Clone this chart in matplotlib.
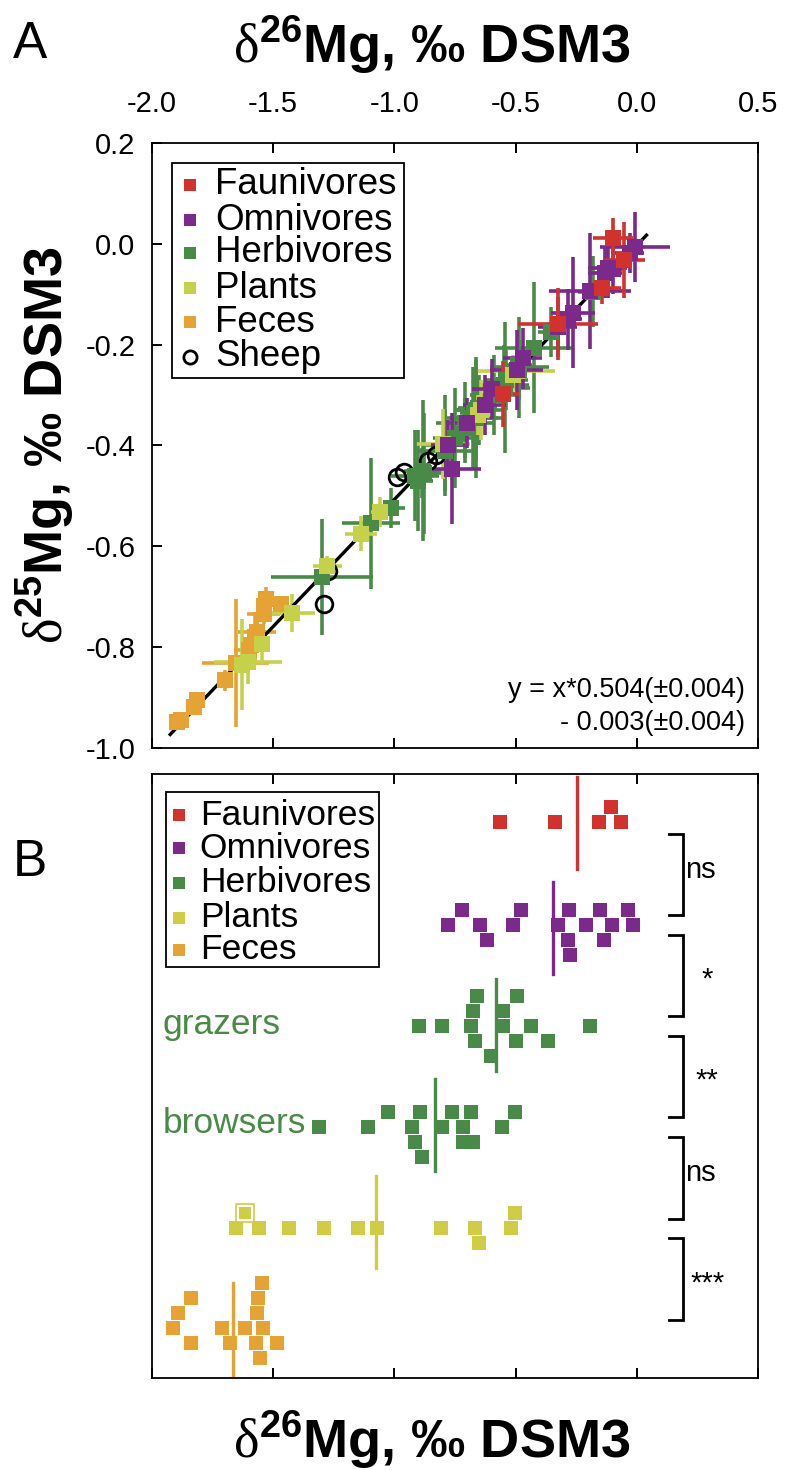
import numpy as np
import matplotlib
matplotlib.use('Agg')
import matplotlib.pyplot as plt
from matplotlib.patches import Rectangle

plt.rcParams['font.family'] = ['Liberation Sans', 'DejaVu Sans']
plt.rcParams['axes.unicode_minus'] = False
plt.rcParams['mathtext.fontset'] = 'custom'
plt.rcParams['mathtext.rm'] = 'Liberation Serif'
plt.rcParams['mathtext.bf'] = 'Liberation Sans:bold'

# colours
c_faun = '#d2322d'
c_omni = '#7b2a8c'
c_herb = '#4a8a48'
c_plant_a = '#c5d04b'
c_plant_b = '#d0cc45'
c_feces = '#e5a335'

# ---------------- panel A : d25Mg vs d26Mg (x, y, xerr, yerr) ----------------
faun_x = [-0.099, -0.054, -0.145, -0.326, -0.554]
faun_y = [0.012, -0.032, -0.087, -0.159, -0.298]
faun_xe = [0.083, 0.087, 0.080, 0.165, 0.066]
faun_ye = [0.040, 0.076, 0.032, 0.071, 0.066]

omni_x = [-0.008, -0.030, -0.100, -0.120, -0.132, -0.194, -0.264, -0.285, -0.326,
          -0.471, -0.496, -0.599, -0.628, -0.702, -0.764, -0.777]
omni_y = [-0.006, -0.018, -0.050, -0.048, -0.058, -0.094, -0.137, -0.150, -0.165,
          -0.227, -0.250, -0.288, -0.320, -0.355, -0.446, -0.400]
omni_xe = [0.145, 0.060, 0.050, 0.080, 0.070, 0.170, 0.090, 0.060, 0.080,
           0.080, 0.110, 0.080, 0.090, 0.050, 0.120, 0.070]
omni_ye = [0.070, 0.040, 0.050, 0.060, 0.050, 0.115, 0.110, 0.060, 0.060,
           0.060, 0.080, 0.060, 0.060, 0.050, 0.110, 0.050]

herb_x = [-0.885, -0.790, -0.650, -0.662, -0.670, -0.657, -0.590, -0.484, -0.538,
          -0.542, -0.426, -0.488, -0.356, -0.182,
          -1.298, -1.095, -1.013, -0.881, -0.914, -0.901, -0.876, -0.790, -0.752,
          -0.674, -0.707, -0.707, -0.662, -0.546, -0.492]
herb_y = [-0.455, -0.400, -0.330, -0.345, -0.335, -0.325, -0.300, -0.245, -0.270,
          -0.285, -0.206, -0.250, -0.175, -0.095,
          -0.661, -0.554, -0.524, -0.450, -0.460, -0.470, -0.455, -0.410, -0.385,
          -0.345, -0.355, -0.365, -0.330, -0.280, -0.240]
herb_xe = [0.060, 0.080, 0.100, 0.120, 0.060, 0.080, 0.100, 0.120, 0.090,
           0.100, 0.160, 0.080, 0.050, 0.060,
           0.210, 0.120, 0.055, 0.080, 0.100, 0.060, 0.070, 0.110, 0.090,
           0.100, 0.120, 0.060, 0.080, 0.100, 0.060]
herb_ye = [0.050, 0.100, 0.070, 0.120, 0.040, 0.060, 0.080, 0.100, 0.060,
           0.130, 0.130, 0.060, 0.050, 0.070,
           0.115, 0.130, 0.040, 0.140, 0.090, 0.100, 0.120, 0.080, 0.100,
           0.100, 0.080, 0.060, 0.100, 0.080, 0.050]

plant_x = [-0.496, -0.509, -0.657, -0.641, -0.798, -1.058, -1.137, -1.277,
           -1.422, -1.546, -1.604, -1.630]
plant_y = [-0.252, -0.260, -0.340, -0.330, -0.397, -0.532, -0.575, -0.639,
           -0.732, -0.794, -0.830, -0.835]
plant_xe = [0.160, 0.040, 0.050, 0.040, 0.110, 0.040, 0.065, 0.060,
            0.095, 0.030, 0.140, 0.050]
plant_ye = [0.040, 0.040, 0.040, 0.060, 0.070, 0.030, 0.035, 0.020,
            0.038, 0.040, 0.043, 0.090]

feces_x = [-1.895, -1.880, -1.825, -1.813, -1.697, -1.655, -1.600, -1.590,
           -1.567, -1.575, -1.540, -1.537, -1.530, -1.467]
feces_y = [-0.949, -0.944, -0.918, -0.905, -0.866, -0.832, -0.805, -0.795,
           -0.770, -0.780, -0.735, -0.718, -0.705, -0.714]
feces_xe = [0.020, 0.020, 0.020, 0.020, 0.025, 0.137, 0.060, 0.030,
            0.078, 0.020, 0.070, 0.030, 0.020, 0.020]
feces_ye = [0.012, 0.012, 0.015, 0.010, 0.020, 0.127, 0.020, 0.030,
            0.020, 0.050, 0.020, 0.030, 0.025, 0.015]

sheep_x = [-0.990, -0.960, -0.860, -0.830, -1.290, -1.275]
sheep_y = [-0.462, -0.452, -0.430, -0.418, -0.714, -0.648]

# regression line y = 0.504 x - 0.003
fit_slope = 0.504
fit_icpt = -0.003
fit_range = [-1.925, 0.04]

xticks = [-2.0, -1.5, -1.0, -0.5, 0.0, 0.5]
xtick_labels = ['-2.0', '-1.5', '-1.0', '-0.5', '0.0', '0.5']
yticks = [0.2, 0.0, -0.2, -0.4, -0.6, -0.8, -1.0]
ytick_labels = ['0.2', '0.0', '-0.2', '-0.4', '-0.6', '-0.8', '-1.0']

# ---------------- panel B : d26Mg dot plot (x value, stack level) ----------------
b_faun_x = [-0.566, -0.339, -0.157, -0.066, -0.107]
b_faun_lvl = [0, 0, 0, 0, -1]
b_omni_x = [-0.723, -0.479, -0.281, -0.153, -0.037,
            -0.777, -0.645, -0.512, -0.326, -0.211, -0.103, -0.017,
            -0.616, -0.285, -0.136, -0.277]
b_omni_lvl = [-1, -1, -1, -1, -1, 0, 0, 0, 0, 0, 0, 0, 1, 1, 1, 2]
b_graz_x = [-0.661, -0.496, -0.674, -0.550, -0.897, -0.802, -0.682, -0.554,
            -0.438, -0.194, -0.669, -0.500, -0.368, -0.603]
b_graz_lvl = [-2, -2, -1, -1, 0, 0, 0, 0, 0, 0, 1, 1, 1, 2]
b_brow_x = [-1.025, -0.893, -0.764, -0.686, -0.504,
            -1.310, -1.107, -0.926, -0.802, -0.719, -0.558,
            -0.913, -0.719, -0.674, -0.888]
b_brow_lvl = [-1, -1, -1, -1, -1, 0, 0, 0, 0, 0, 0, 1, 1, 1, 2]
b_plant_x = [-1.653, -1.558, -1.434, -1.289, -1.149, -1.070, -0.806, -0.669,
             -0.521, -0.504, -0.653]
b_plant_lvl = [0, 0, 0, 0, 0, 0, 0, 0, 0, -1, 1]
b_plant_special_x = [-1.616]
b_plant_special_lvl = [-1]
b_feces_x = [-1.839, -1.893, -1.913, -1.839, -1.711, -1.678, -1.616, -1.545,
             -1.562, -1.566, -1.541, -1.570, -1.483, -1.554]
b_feces_lvl = [-2, -1, 0, 1, 0, 1, 0, -3, -2, -1, 0, 1, 1, 2]

# group means and row positions (rows counted in square heights from the top)
b_means = [-0.248, -0.347, -0.579, -0.833, -1.074, -1.665]
b_rows = [3.2, 10.07, 16.8, 23.53, 30.27, 36.93]
b_mean_mid = [3.27, 10.27, 16.73, 23.4, 29.87, 37.0]
b_colors = [c_faun, c_omni, c_herb, c_herb, c_plant_b, c_feces]

# significance brackets
br_top = [4.0, 10.73, 17.47, 24.2, 30.93]
br_bot = [9.4, 16.13, 22.87, 29.67, 36.4]
br_text = ['ns', '*', '**', 'ns', '***']

legend_names = ['Faunivores', 'Omnivores', 'Herbivores', 'Plants', 'Feces']

fig = plt.figure(figsize=(7.85, 14.7), dpi=100)
W, H = 785.0, 1470.0

# ======================= panel A =======================
axA = fig.add_axes([152 / W, 1 - 748 / H, 606 / W, 605 / H])
axA.set_xlim(-2.0, 0.5)
axA.set_ylim(-1.0, 0.2)

groups_a = [
    (feces_x, feces_y, feces_xe, feces_ye, c_feces),
    (herb_x, herb_y, herb_xe, herb_ye, c_herb),
    (plant_x, plant_y, plant_xe, plant_ye, c_plant_a),
    (omni_x, omni_y, omni_xe, omni_ye, c_omni),
    (faun_x, faun_y, faun_xe, faun_ye, c_faun),
]
for gx, gy, gxe, gye, col in groups_a:
    axA.errorbar(gx, gy, xerr=gxe, yerr=gye, fmt='none', ecolor=col,
                 elinewidth=2.6, capsize=0, zorder=2)

fx = np.array(fit_range)
axA.plot(fx, fit_slope * fx + fit_icpt, color='black', lw=2.4, zorder=2.5)

# sheep circles sit under the squares
axA.plot(sheep_x, sheep_y, 'o', mfc='none', mec='black', ms=12, mew=2.0, zorder=2.7)

for gx, gy, gxe, gye, col in groups_a:
    axA.plot(gx, gy, 's', color=col, ms=11.5, mew=0, zorder=3)

axA.set_xticks(xticks)
axA.set_xticklabels(xtick_labels)
axA.set_yticks(yticks)
axA.set_yticklabels(ytick_labels)
axA.tick_params(axis='x', which='both', top=True, bottom=True, labeltop=True,
                labelbottom=False, direction='in', length=7, width=1.4,
                labelsize=21, pad=18)
axA.tick_params(axis='y', which='both', left=True, right=False, direction='in',
                length=7, width=1.4, labelsize=21, pad=12)
for sp in axA.spines.values():
    sp.set_linewidth(1.3)

# legend drawn by hand to keep the tight spacing of the original
axA.add_patch(Rectangle((0.033, 0.612), 0.383, 0.355, transform=axA.transAxes,
                        fill=False, ec='black', lw=1.3, zorder=5))
leg_a_y = [0.9306, 0.8727, 0.8182, 0.7603, 0.7041, 0.6463]
leg_a_cols = [c_faun, c_omni, c_herb, c_plant_a, c_feces]
for i, name in enumerate(legend_names):
    axA.plot(0.0627, leg_a_y[i], 's', color=leg_a_cols[i], ms=8.6, mew=0,
             transform=axA.transAxes, zorder=6)
    axA.text(0.104, leg_a_y[i], name, transform=axA.transAxes, fontsize=26.5,
             va='center', ha='left', zorder=6)
axA.plot(0.0627, leg_a_y[5], 'o', mfc='none', mec='black', ms=9.5, mew=2.0,
         transform=axA.transAxes, zorder=6)
axA.text(0.104, leg_a_y[5], 'Sheep', transform=axA.transAxes, fontsize=26.5,
         va='center', ha='left', zorder=6)

axA.text(0.978, 0.096, 'y = x*0.504(\u00b10.004)', transform=axA.transAxes,
         fontsize=19.5, ha='right', va='center')
axA.text(0.978, 0.041, '- 0.003(\u00b10.004)', transform=axA.transAxes,
         fontsize=19.5, ha='right', va='center')

# ======================= panel B =======================
axB = fig.add_axes([152 / W, 1 - 1378 / H, 606 / W, 604 / H])
axB.set_xlim(-2.0, 0.5)
axB.set_ylim(40.27, 0)

sets_b = [
    (b_faun_x, b_faun_lvl, 0, c_faun),
    (b_omni_x, b_omni_lvl, 1, c_omni),
    (b_graz_x, b_graz_lvl, 2, c_herb),
    (b_brow_x, b_brow_lvl, 3, c_herb),
    (b_plant_x, b_plant_lvl, 4, c_plant_b),
    (b_feces_x, b_feces_lvl, 5, c_feces),
]
for k in range(6):
    mid = b_mean_mid[k]
    axB.plot([b_means[k], b_means[k]], [mid - 3.05, mid + 3.05],
             color=b_colors[k], lw=2.4, zorder=2)
for bx, lvl, k, col in sets_b:
    by = b_rows[k] + np.array(lvl)
    axB.plot(bx, by, 's', color=col, ms=9.4, mew=0, zorder=3)

# the outlined plant sample
sy = b_rows[4] + np.array(b_plant_special_lvl)
axB.plot(b_plant_special_x, sy, 's', mfc='white', mec=c_plant_b, ms=12.5, mew=1.2, zorder=3)
axB.plot(b_plant_special_x, sy, 's', color=c_plant_b, ms=8, mew=0, zorder=4)

# brackets
for i in range(5):
    axB.plot([0.132, 0.19, 0.19, 0.132], [br_top[i], br_top[i], br_bot[i], br_bot[i]],
             color='black', lw=2.0, solid_joinstyle='miter', zorder=3)
    ty = (br_top[i] + br_bot[i]) / 2
    if br_text[i] == 'ns':
        axB.text(0.2, ty - 0.3, br_text[i], fontsize=21, ha='left', va='center')
    else:
        axB.text(0.29, ty + 0.3, br_text[i], fontsize=21, ha='center', va='center')

axB.text(-1.955, 16.73, 'grazers', color=c_herb, fontsize=25.5, ha='left', va='center')
axB.text(-1.955, 23.27, 'browsers', color=c_herb, fontsize=25.5, ha='left', va='center')

axB.set_xticks(xticks)
axB.set_yticks([])
axB.tick_params(axis='x', which='both', top=True, bottom=True, labeltop=False,
                labelbottom=False, direction='in', length=7, width=1.4)
for sp in axB.spines.values():
    sp.set_linewidth(1.3)

axB.add_patch(Rectangle((0.0231, 0.680), 0.3515, 0.290, transform=axB.transAxes,
                        fill=False, ec='black', lw=1.3, zorder=5))
leg_b_y = [0.932, 0.877, 0.820, 0.762, 0.709]
leg_b_cols = [c_faun, c_omni, c_herb, c_plant_b, c_feces]
for i, name in enumerate(legend_names):
    axB.plot(0.0446, leg_b_y[i], 's', color=leg_b_cols[i], ms=8, mew=0,
             transform=axB.transAxes, zorder=6)
    axB.text(0.079, leg_b_y[i], name, transform=axB.transAxes, fontsize=25.5,
             va='center', ha='left', zorder=6)

# ======================= labels =======================
lab26 = r'$\mathrm{\delta}^{\mathbf{26}}$Mg, ‰ DSM3'
lab25 = r'$\mathrm{\delta}^{\mathbf{25}}$Mg, ‰ DSM3'
fig.text(432 / W, 1 - 45 / H, lab26, fontsize=39, fontweight='bold', ha='center', va='center')
fig.text(432 / W, 1 - 1440 / H, lab26, fontsize=39, fontweight='bold', ha='center', va='center')
fig.text(45 / W, 1 - 445 / H, lab25, fontsize=39, fontweight='bold', rotation=90,
         ha='center', va='center')
fig.text(30 / W, 1 - 45 / H, 'A', fontsize=37, ha='center', va='center')
fig.text(30 / W, 1 - 862 / H, 'B', fontsize=37, ha='center', va='center')

fig.savefig('out.png', dpi=100)
